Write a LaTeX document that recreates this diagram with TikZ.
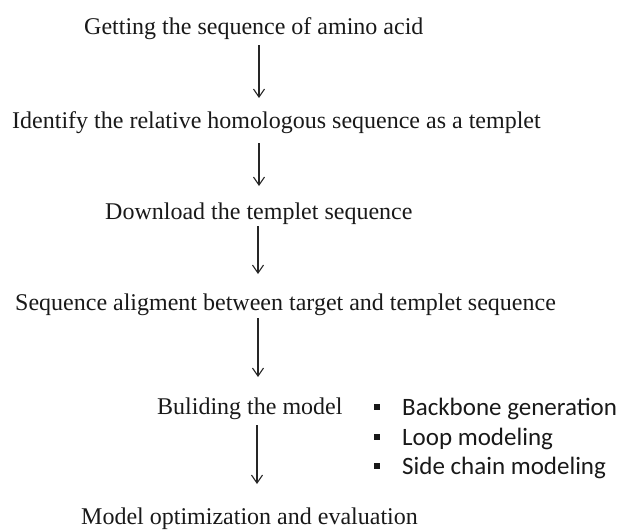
\documentclass[tikz,border=0pt]{standalone}
\usepackage{fontspec}
\setmainfont{Liberation Serif}
\newfontfamily\bulletfont{Carlito}
\usetikzlibrary{arrows.meta}
\tikzset{
  lbl/.style={anchor=base west, inner sep=0pt, font=\fontsize{24}{28}\selectfont, text=black!90},
  blbl/.style={anchor=base west, inner sep=0pt, font=\bulletfont\fontsize{25}{30}\selectfont, text=black!90},
  bsq/.style={fill=black!90, draw=none, minimum size=6pt, inner sep=0pt},
  arr/.style={draw=black!85, line width=1.1pt, -{Straight Barb[length=8pt,width=11pt,line width=1.1pt]}}
}
\begin{document}
\begin{tikzpicture}[x=1pt,y=-1pt]
\useasboundingbox (0,0) rectangle (617,531);
\node[lbl] (s1) at (84,34) {Getting the sequence of amino acid};
\node[lbl] (s2) at (12,128) {Identify the relative homologous sequence as a templet};
\node[lbl] (s3) at (105,219) {Download the templet sequence};
\node[lbl] (s4) at (15,310) {Sequence aligment between target and templet sequence};
\node[lbl] (s5) at (157,414) {Buliding the model};
\node[lbl] (s6) at (81,524) {Model optimization and evaluation};
% bullets
\node[bsq] (q1) at (377,407) {};
\node[bsq] (q2) at (377,437) {};
\node[bsq] (q3) at (377,466) {};
\node[blbl] (b1) at (402,415) {Backbone generation};
\node[blbl] (b2) at (402,445) {Loop modeling};
\node[blbl] (b3) at (402,474) {Side chain modeling};
% arrow ends
\coordinate (t1) at (259,45);  \coordinate (h1) at (259,98);
\coordinate (t2) at (259,143); \coordinate (h2) at (259,186);
\coordinate (t3) at (258,226); \coordinate (h3) at (258,274);
\coordinate (t4) at (258,318); \coordinate (h4) at (258,377);
\coordinate (t5) at (257,425); \coordinate (h5) at (257,484);
\draw[arr] (t1) -- (h1);
\draw[arr] (t2) -- (h2);
\draw[arr] (t3) -- (h3);
\draw[arr] (t4) -- (h4);
\draw[arr] (t5) -- (h5);
\end{tikzpicture}
\end{document}
